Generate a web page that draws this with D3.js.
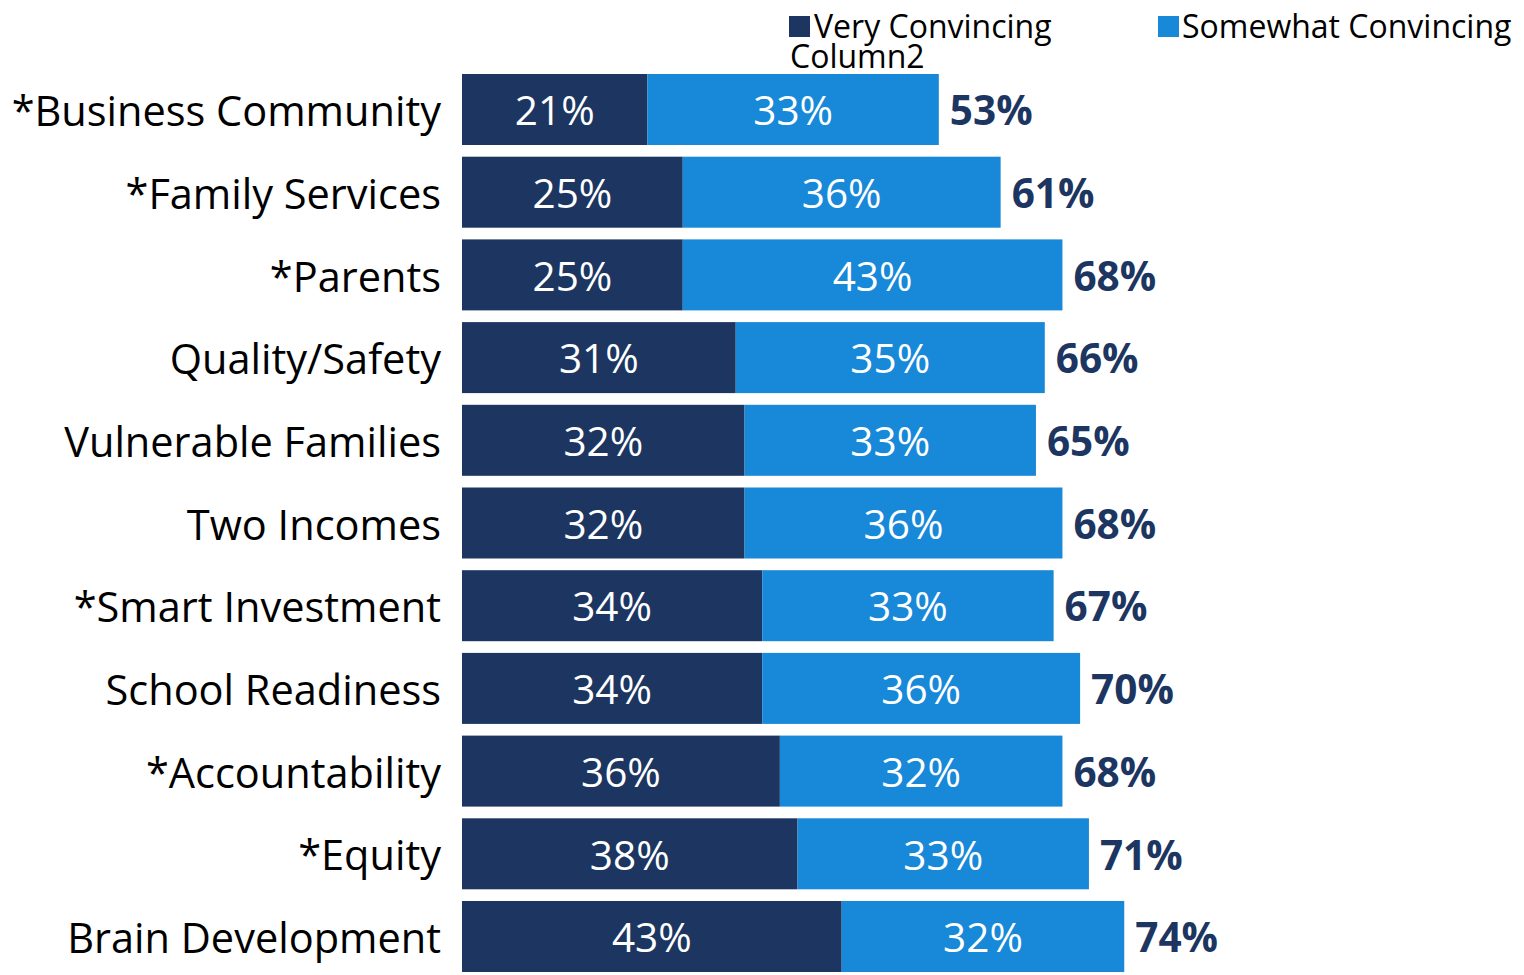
<!DOCTYPE html>
<html>
<head>
<meta charset="utf-8">
<script src="https://cdn.jsdelivr.net/npm/d3@7"></script>
<style>
  html, body { margin: 0; padding: 0; background: #fff; }
  svg { display: block; }
  text { font-family: "Open Sans", sans-serif; }
</style>
</head>
<body>
<svg id="chart" width="1524" height="975"></svg>
<script>
const categories = ["*Business Community", "*Family Services", "*Parents", "Quality/Safety", "Vulnerable Families", "Two Incomes", "*Smart Investment", "School Readiness", "*Accountability", "*Equity", "Brain Development"];
const veryConvincing = [21, 25, 25, 31, 32, 32, 34, 34, 36, 38, 43];
const somewhatConvincing = [33, 36, 43, 35, 33, 36, 33, 36, 32, 33, 32];
const totals = [53, 61, 68, 66, 65, 68, 67, 70, 68, 71, 74];
const seriesNames = ["Very Convincing", "Somewhat Convincing", "Column2"];

const DARK = "#1c3661";
const LIGHT = "#1888d8";

const svg = d3.select("#chart");

const x = d3.scaleLinear().domain([0, 100]).range([462, 1345]);
const step = 82.7;
const y = d3.scaleBand()
  .domain(categories)
  .range([74 - (step - 71) / 2, 74 - (step - 71) / 2 + step * categories.length])
  .paddingInner((step - 71) / step)
  .paddingOuter((step - 71) / step / 2);

const rows = categories.map((c, i) => ({ cat: c, very: veryConvincing[i], some: somewhatConvincing[i], total: totals[i] }));

const g = svg.append("g");

g.selectAll("rect.very").data(rows).join("rect")
  .attr("class", "very")
  .attr("x", x(0))
  .attr("y", d => y(d.cat))
  .attr("width", d => x(d.very) - x(0))
  .attr("height", y.bandwidth())
  .attr("fill", DARK);

g.selectAll("rect.some").data(rows).join("rect")
  .attr("class", "some")
  .attr("x", d => x(d.very))
  .attr("y", d => y(d.cat))
  .attr("width", d => x(d.very + d.some) - x(d.very))
  .attr("height", y.bandwidth())
  .attr("fill", LIGHT);

g.selectAll("text.vl").data(rows).join("text")
  .attr("x", d => (x(0) + x(d.very)) / 2)
  .attr("y", d => y(d.cat) + y.bandwidth() / 2)
  .attr("dy", "0.39em")
  .attr("text-anchor", "middle")
  .attr("fill", "#fff")
  .attr("font-size", 40.5)
  .text(d => d.very + "%");

g.selectAll("text.sl").data(rows).join("text")
  .attr("x", d => (x(d.very) + x(d.very + d.some)) / 2)
  .attr("y", d => y(d.cat) + y.bandwidth() / 2)
  .attr("dy", "0.39em")
  .attr("text-anchor", "middle")
  .attr("fill", "#fff")
  .attr("font-size", 40.5)
  .text(d => d.some + "%");

g.selectAll("text.tl").data(rows).join("text")
  .attr("x", d => x(d.very + d.some) + 11)
  .attr("y", d => y(d.cat) + y.bandwidth() / 2)
  .attr("dy", "0.39em")
  .attr("text-anchor", "start")
  .attr("fill", DARK)
  .attr("font-weight", "bold")
  .attr("font-size", 40.5)
  .text(d => d.total + "%");

const yAxis = d3.axisLeft(y).tickSize(0).tickPadding(0);
const ax = svg.append("g").attr("transform", "translate(441,0)").call(yAxis);
ax.select(".domain").remove();
ax.selectAll("text")
  .attr("font-family", "'Open Sans', sans-serif")
  .attr("font-size", 41.5)
  .attr("fill", "#000")
  .attr("dy", "0.4em");

const legend = svg.append("g");
legend.append("rect").attr("x", 789).attr("y", 16).attr("width", 21).attr("height", 21).attr("fill", DARK);
legend.append("text").attr("x", 814).attr("y", 38).attr("font-size", 32).attr("fill", "#000").text(seriesNames[0]);
legend.append("text").attr("x", 790).attr("y", 68).attr("font-size", 32).attr("fill", "#000").text(seriesNames[2]);
legend.append("rect").attr("x", 1158).attr("y", 16).attr("width", 21).attr("height", 21).attr("fill", LIGHT);
legend.append("text").attr("x", 1182).attr("y", 38).attr("font-size", 32).attr("fill", "#000").text(seriesNames[1]);
</script>
</body>
</html>
